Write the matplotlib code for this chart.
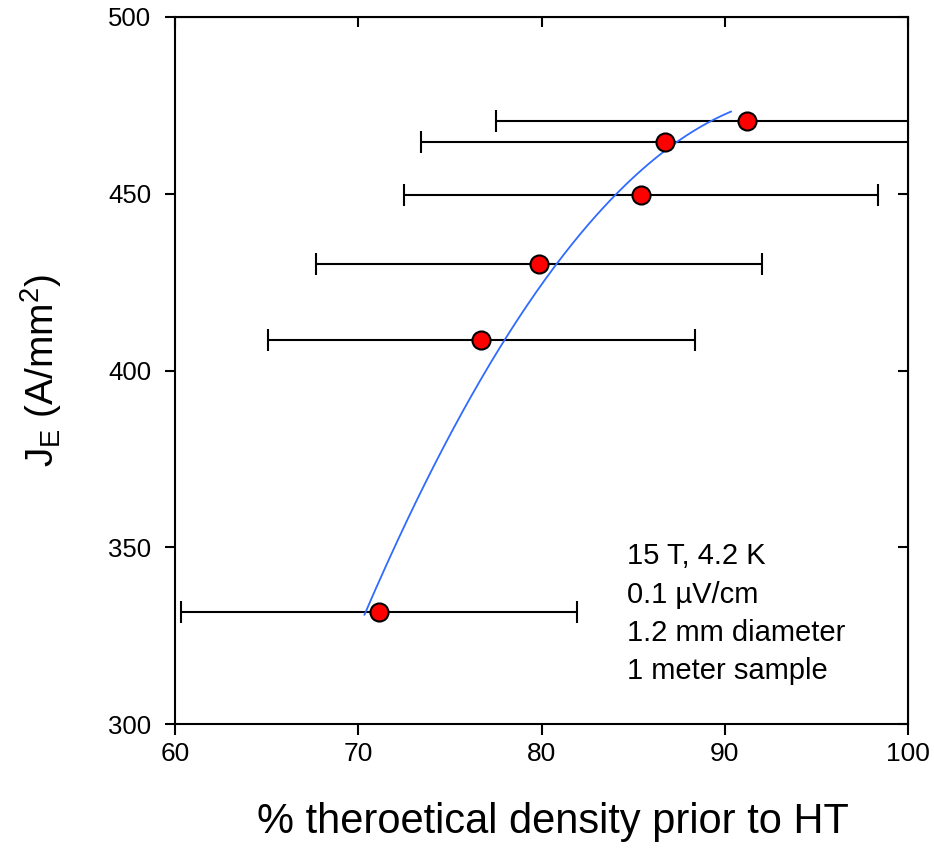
import matplotlib
matplotlib.use("Agg")
import matplotlib.pyplot as plt
import numpy as np

# === Data ===
density = [71.13, 76.7, 79.86, 85.43, 86.74, 91.2]
je = [331.7, 408.6, 430.1, 449.6, 464.6, 470.6]
density_err = [10.8, 11.65, 12.15, 12.95, 13.3, 13.7]

# points on the fitted curve as drawn in the reference
fit_x = [70.34, 71.73, 73.19, 76.7, 77.97, 80.79, 84.0, 87.32, 89.4, 90.34]
fit_y = [330.8, 347.3, 363.4, 397.3, 408.6, 430.1, 449.6, 464.1, 470.6, 473.7]

x_ticks = [60, 70, 80, 90, 100]
y_ticks = [300, 350, 400, 450, 500]

note_lines = ["15 T, 4.2 K", "0.1 \u00b5V/cm", "1.2 mm diameter", "1 meter sample"]

plt.rcParams['font.family'] = ['Liberation Sans', 'DejaVu Sans']

fig = plt.figure(figsize=(9.34, 8.48), dpi=100)
ax = fig.add_axes([175 / 934, 1 - 724 / 848, (908 - 175) / 934, (724 - 17) / 848])

ax.errorbar(density, je, xerr=density_err, fmt='none', ecolor='black',
            elinewidth=1.5, capsize=8, capthick=1.5, zorder=2)

# smooth 2nd order regression through the curve points
coef = np.polyfit(fit_x, fit_y, 2)
xs = np.linspace(fit_x[0], fit_x[-1], 200)
ax.plot(xs, np.polyval(coef, xs), color='#2f6bff', lw=1.3, zorder=3)

ax.plot(density, je, 'o', ms=13, mfc='#ff0000', mec='black', mew=1.5, zorder=4)

ax.set_xlim(60, 100)
ax.set_ylim(300, 500)
ax.set_xticks(x_ticks)
ax.set_yticks(y_ticks)

for s in ax.spines.values():
    s.set_linewidth(1.5)

ax.tick_params(axis='y', direction='out', length=7, width=1.5, labelsize=18.5, pad=10)
ax.tick_params(axis='x', direction='out', length=8, width=1.5, labelsize=19, pad=5)

# inward ticks on top and right
top = ax.secondary_xaxis('top')
top.set_xticks(x_ticks)
top.tick_params(direction='in', length=7, width=1.5, labeltop=False)
right = ax.secondary_yaxis('right')
right.set_yticks(y_ticks)
right.tick_params(direction='in', length=7, width=1.5, labelright=False)

ax.set_xlabel('% theroetical density prior to HT', fontsize=30)
ax.xaxis.set_label_coords(0.515, -0.138)
ax.xaxis.label.set_va('center')
ax.set_ylabel(r'J$_\mathregular{E}$ (A/mm$^\mathregular{2}$)', fontsize=28, labelpad=32)

ax.text(0.617, 0.257, "\n".join(note_lines), transform=ax.transAxes, fontsize=21,
        linespacing=1.47, ha='left', va='top')

fig.savefig('out.png', dpi=100)
